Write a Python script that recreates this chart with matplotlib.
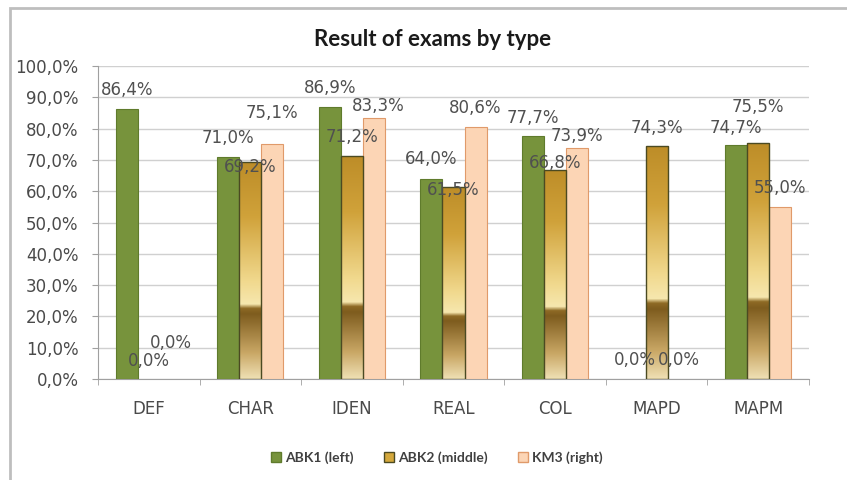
import numpy as np
import matplotlib
matplotlib.use("Agg")
import matplotlib.pyplot as plt
from matplotlib.colors import LinearSegmentedColormap
from matplotlib.patches import Patch, Rectangle

categories = ["DEF", "CHAR", "IDEN", "REAL", "COL", "MAPD", "MAPM"]
abk1 = [86.4, 71.0, 86.9, 64.0, 77.7, 0.0, 74.7]
abk2 = [0.0, 69.2, 71.2, 61.5, 66.8, 74.3, 75.5]
km3 = [0.0, 75.1, 83.3, 80.6, 73.9, 0.0, 55.0]
series_names = ["ABK1 (left)", "ABK2 (middle)", "KM3 (right)"]

# label offsets in pixels above bar top (the excel labels wander a bit)
dy1 = [19, 19, 19, 20, 18, 19, 17]
dy2 = [18, -5, 19, -3, 7, 18, 36]
dy3 = [36, 31, 12, 19, 12, 19, 19]
dx3 = [0, 0, 4, 0, 0, 0, 0]

fig = plt.figure(figsize=(8.47, 4.8), dpi=100)
fig.patch.set_facecolor("white")
fig.patches.append(Rectangle((10/847, -1), 2, 2 - 8/480, transform=fig.transFigure,
                             fill=False, edgecolor="#BEBEBE", lw=2))

ax = fig.add_axes([98/847, 1-379/480, (809-98)/847, (379-66)/480])

x = np.arange(len(categories))
w = 0.217
gold_cmap = LinearSegmentedColormap.from_list("gold", [
    (0.0, "#EFE0B4"), (0.12, "#C9A765"), (0.30, "#7E5C1E"),
    (0.325, "#8E6A25"), (0.345, "#F6E7AE"), (0.45, "#F1D98E"),
    (0.75, "#D0A23A"), (1.0, "#BD8D28")])
grad = np.linspace(0, 1, 256).reshape(-1, 1)

def lws(vals, lw):
    return [lw if v > 0 else 0 for v in vals]

b1 = ax.bar(x - w, abk1, w, color="#77933C", edgecolor="#5F7B2C", lw=lws(abk1, 0.8), zorder=3)
b2 = ax.bar(x, abk2, w, color="none", edgecolor="#4B4A22", lw=lws(abk2, 1.0), zorder=4)
b3 = ax.bar(x + w, km3, w, color="#FCD5B5", edgecolor="#E09A6A", lw=lws(km3, 0.8), zorder=3)

for r in b2:
    h = r.get_height()
    if h <= 0:
        continue
    x0 = r.get_x()
    im = ax.imshow(grad, cmap=gold_cmap, origin="lower", aspect="auto",
                   extent=[x0, x0 + r.get_width(), 0, h], zorder=3)
    im.set_clip_path(r)

ax.set_xlim(-0.5, len(categories) - 0.5)
ax.set_ylim(0, 100)
ax.set_yticks(np.arange(0, 101, 10))
ax.set_yticklabels([f"{v:.1f}".replace(".", ",") + "%" for v in np.arange(0, 101, 10)])
ax.set_xticks(x)
ax.set_xticklabels(categories)
ax.set_xticks(np.arange(-0.5, len(categories)), minor=True)
ax.tick_params(axis="x", which="major", length=0, pad=15, labelsize=12, labelcolor="#4A4A4A")
ax.tick_params(axis="x", which="minor", length=4, color="#A0A0A0", direction="out")
ax.tick_params(axis="y", length=4, color="#A0A0A0", pad=10, labelsize=12, labelcolor="#4A4A4A")
ax.grid(axis="y", color="#D0D0D0", lw=1, zorder=0)
ax.set_axisbelow(True)
for s in ["top", "right"]:
    ax.spines[s].set_visible(False)
for s in ["left", "bottom"]:
    ax.spines[s].set_color("#A0A0A0")

def fmt(v):
    return f"{v:.1f}".replace(".", ",") + "%"

lab = dict(ha="center", va="center", fontsize=12, color="#505050",
           textcoords="offset pixels", zorder=6)
for i in range(len(categories)):
    ax.annotate(fmt(abk1[i]), (x[i] - w, abk1[i]), xytext=(0, dy1[i]), **lab)
    ax.annotate(fmt(abk2[i]), (x[i], abk2[i]), xytext=(0, dy2[i]), **lab)
    ax.annotate(fmt(km3[i]), (x[i] + w, km3[i]), xytext=(dx3[i], dy3[i]), **lab)

fig.text(433/847, 1-40/480, "Result of exams by type", ha="center", va="center",
         fontsize=16, fontweight="bold", family="Lato", color="#1A1A1A")

handles = [Patch(facecolor="#77933C", edgecolor="#5F7B2C"),
           Patch(facecolor="#D4A83C", edgecolor="#4B4A22"),
           Patch(facecolor="#FCD5B5", edgecolor="#E09A6A")]
leg = fig.legend(handles, series_names, loc="center", bbox_to_anchor=(437/847, 1-458/480),
                 ncol=3, frameon=False, handlelength=0.7, handleheight=0.7,
                 handletextpad=0.3, columnspacing=2.2,
                 prop={"family": "Lato", "weight": "bold", "size": 10})
for t in leg.get_texts():
    t.set_color("#404040")

fig.savefig("out.png", dpi=100)
